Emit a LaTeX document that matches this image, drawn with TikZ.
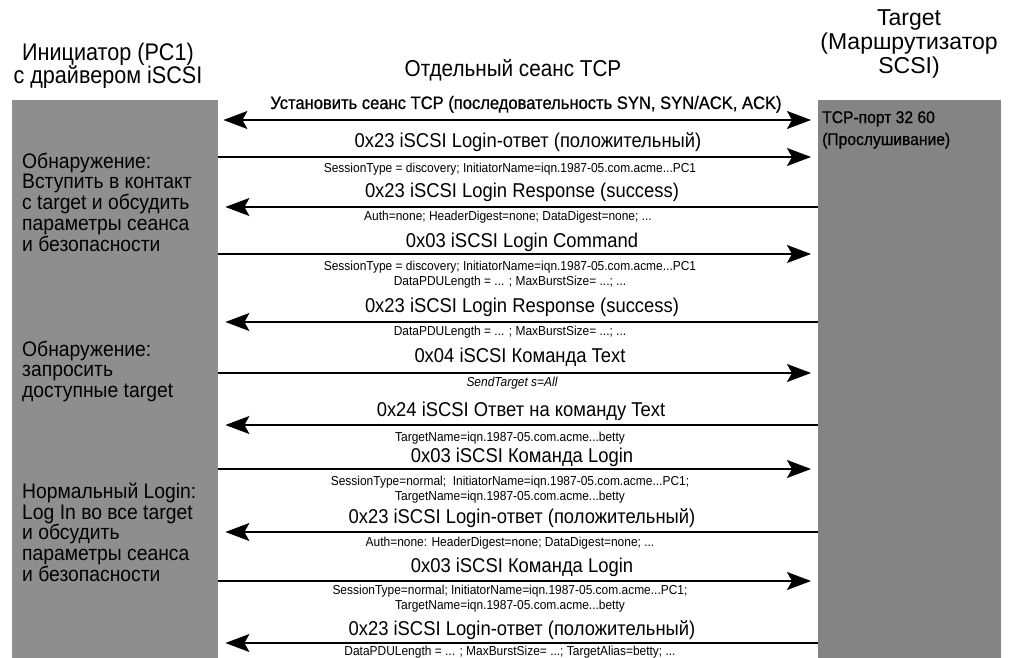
\documentclass[tikz,border=0pt]{standalone}
\usepackage{fontspec}
\setmainfont{Liberation Sans}
\newfontfamily\msgfont[FakeStretch=0.92]{Liberation Sans}
\newfontfamily\headfont[FakeStretch=0.9]{Liberation Sans}
\newfontfamily\semifont[FakeStretch=0.92,FakeBold=0.8]{Liberation Sans}
\usetikzlibrary{arrows.meta}
\definecolor{initgray}{RGB}{142,142,142}
\definecolor{targgray}{RGB}{132,132,132}
\begin{document}
\begin{tikzpicture}[x=1pt,y=-1pt,
  box/.style={draw=none, inner sep=0, anchor=north west},
  msg/.style={line width=1.8pt, -{Stealth[length=24pt,width=18pt,inset=5pt]}, shorten >=7pt},
  both/.style={line width=1.8pt, {Stealth[length=24pt,width=18pt,inset=5pt]}-{Stealth[length=24pt,width=18pt,inset=5pt]}, shorten >=7pt, shorten <=5pt},
  big/.style={font=\msgfont\fontsize{20}{22}\selectfont, anchor=base, inner sep=0},
  small/.style={font=\msgfont\fontsize{13}{14.6}\selectfont, anchor=base, inner sep=0, align=center},
  head/.style={font=\headfont\fontsize{24}{23}\selectfont, anchor=north, inner sep=0, align=center},
  side/.style={font=\msgfont\fontsize{21}{20.8}\selectfont, anchor=north west, inner sep=0, align=left},
  port/.style={font=\semifont\fontsize{17}{22}\selectfont, anchor=north west, inner sep=0, align=left},
]
\useasboundingbox (0,0) rectangle (1012,658);
\fill[white] (0,0) rectangle (1012,658);

% the two end points
\node[box, fill=initgray, minimum width=206pt, minimum height=558pt] (init) at (12,100) {};
\node[box, fill=targgray, minimum width=183pt, minimum height=558pt] (targ) at (818,100) {};

% column headers
\node[head] (hinit) at (108,43) {Инициатор (PC1)\\с драйвером iSCSI};
\node[head, font=\setmainfont{Liberation Sans}\fontsize{23}{24}\selectfont] (htarg) at (909,9) {Target\\(Маршрутизатор\\SCSI)};
\node[head, font=\headfont\fontsize{23}{24}\selectfont] (htcp) at (513,59) {Отдельный сеанс TCP};

% notes inside the grey columns
\node[port] (tport) at (822,111) {TCP-порт 32 60\\(Прослушивание)};
\node[side] (n1) at (22,152.5) {Обнаружение:\\Вступить в контакт\\с target и обсудить\\параметры сеанса\\и безопасности};
\node[side] (n2) at (22,340.5) {Обнаружение:\\запросить\\доступные target};
\node[side] (n3) at (22,482.5) {Нормальный Login:\\Log In во все target\\и обсудить\\параметры сеанса\\и безопасности};

% TCP session set-up
\node[font=\semifont\fontsize{18}{20}\selectfont, anchor=base, inner sep=0] (t0) at (526,109) {Установить сеанс TCP (последовательность SYN, SYN/ACK, ACK)};
\draw[both] (init.east |- 0,120) -- (targ.west |- 0,120);

% discovery login
\node[big] (t1) at (528,147) {0x23 iSCSI Login-ответ (положительный)};
\draw[msg] (init.east |- 0,157) -- (targ.west |- 0,157);
\node[small] (s1) at (510,172) {SessionType = discovery; InitiatorName=iqn.1987-05.com.acme...PC1};

\node[big] (t2) at (522,197) {0x23 iSCSI Login Response (success)};
\draw[msg] (targ.west |- 0,207) -- (init.east |- 0,207);
\node[small] (s2) at (508,220) {Auth=none; HeaderDigest=none; DataDigest=none; ...};

\node[big] (t3) at (522,247) {0x03 iSCSI Login Command};
\draw[msg] (init.east |- 0,254) -- (targ.west |- 0,254);
\node[small] (s3) at (510,285) {SessionType = discovery; InitiatorName=iqn.1987-05.com.acme...PC1\\DataPDULength = ... ; MaxBurstSize= ...; ...};

\node[big] (t4) at (522,312) {0x23 iSCSI Login Response (success)};
\draw[msg] (targ.west |- 0,322) -- (init.east |- 0,322);
\node[small] (s4) at (510,335) {DataPDULength = ... ; MaxBurstSize= ...; ...};

% target discovery
\node[big] (t5) at (520,362) {0x04 iSCSI Команда Text};
\draw[msg] (init.east |- 0,373) -- (targ.west |- 0,373);
\node[small, font=\msgfont\itshape\fontsize{13}{14.6}\selectfont] (s5) at (512,386) {SendTarget s=All};

\node[big] (t6) at (521,416) {0x24 iSCSI Ответ на команду Text};
\draw[msg] (targ.west |- 0,425) -- (init.east |- 0,425);
\node[small] (s6) at (510,441) {TargetName=iqn.1987-05.com.acme...betty};

% normal login
\node[big] (t7) at (522,462) {0x03 iSCSI Команда Login};
\draw[msg] (init.east |- 0,469) -- (targ.west |- 0,469);
\node[small] (s7) at (510,500) {SessionType=normal;\ \ InitiatorName=iqn.1987-05.com.acme...PC1;\\TargetName=iqn.1987-05.com.acme...betty};

\node[big] (t8) at (522,523) {0x23 iSCSI Login-ответ (положительный)};
\draw[msg] (targ.west |- 0,532) -- (init.east |- 0,532);
\node[small] (s8) at (510,546) {Auth=none: HeaderDigest=none; DataDigest=none; ...};

\node[big] (t9) at (522,572) {0x03 iSCSI Команда Login};
\draw[msg] (init.east |- 0,581) -- (targ.west |- 0,581);
\node[small] (s9) at (510,609) {SessionType=normal; InitiatorName=iqn.1987-05.com.acme...PC1;\\TargetName=iqn.1987-05.com.acme...betty};

\node[big] (t10) at (522,635) {0x23 iSCSI Login-ответ (положительный)};
\draw[msg] (targ.west |- 0,643) -- (init.east |- 0,643);
\node[small] (s10) at (510,655) {DataPDULength = ... ; MaxBurstSize= ...; TargetAlias=betty; ...};
\end{tikzpicture}
\end{document}
